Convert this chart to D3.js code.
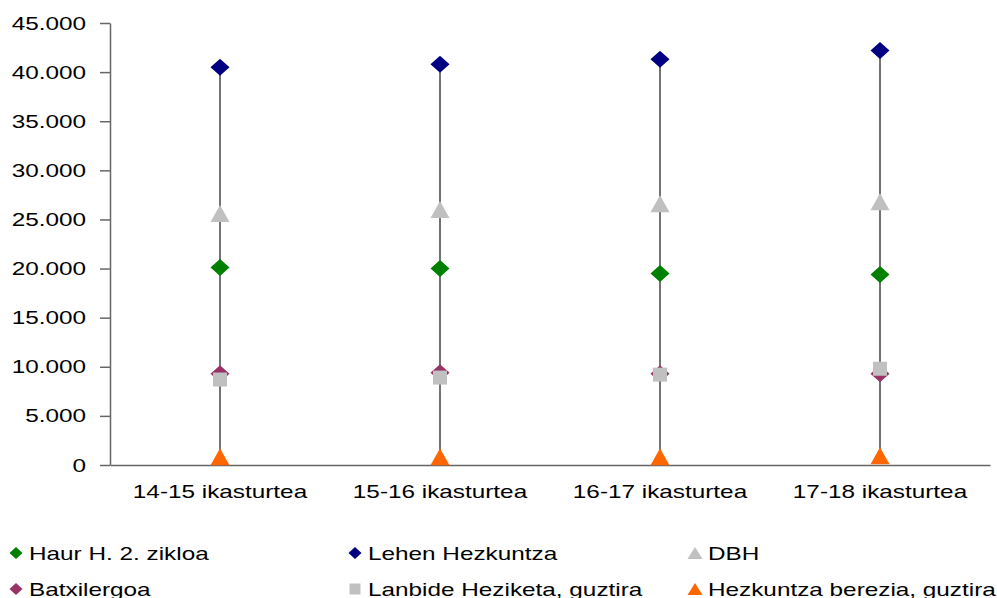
<!DOCTYPE html>
<html>
<head>
<meta charset="utf-8">
<script src="https://cdn.jsdelivr.net/npm/d3@7"></script>
<style>
  body { margin: 0; background: #fff; }
  text { font-family: "Liberation Sans", Arial, sans-serif; fill: #000; }
</style>
</head>
<body>
<script>
const svgW = 997;
const svgH = 598;

// datuak
const categories = ['14-15 ikasturtea', '15-16 ikasturtea', '16-17 ikasturtea', '17-18 ikasturtea'];
const seriesNames = ['Haur H. 2. zikloa', 'Lehen Hezkuntza', 'DBH', 'Batxilergoa', 'Lanbide Heziketa, guztira', 'Hezkuntza berezia, guztira'];
const haur = [20100, 20000, 19500, 19400];
const lehen = [40500, 40800, 41300, 42200];
const dbh = [25600, 26000, 26600, 26800];
const batx = [9300, 9400, 9300, 9300];
const lanbide = [8700, 8900, 9200, 9800];
const berezia = [850, 850, 850, 950];
const yTicks = [0, 5000, 10000, 15000, 20000, 25000, 30000, 35000, 40000, 45000];

const seriesValues = [haur, lehen, dbh, batx, lanbide, berezia];
const colors = ['#008000', '#000080', '#c0c0c0', '#993366', '#c0c0c0', '#ff6600'];

// testua horizontalki luzatuta dago jatorrizkoan
const sx = 1.28;

// marker formak (w, h pixeletan)
const diamond = (w, h) => ({ draw(ctx) {
  ctx.moveTo(0, -h / 2); ctx.lineTo(w / 2, 0); ctx.lineTo(0, h / 2); ctx.lineTo(-w / 2, 0); ctx.closePath();
}});
const triangle = (w, h) => ({ draw(ctx) {
  ctx.moveTo(0, -h / 2); ctx.lineTo(w / 2, h / 2); ctx.lineTo(-w / 2, h / 2); ctx.closePath();
}});
const square = (w, h) => ({ draw(ctx) {
  ctx.rect(-w / 2, -h / 2, w, h);
}});
const shapes = [diamond, diamond, triangle, diamond, square, triangle];
const markSize = [[19, 17], [19, 17], [19, 17], [19, 17], [14, 14], [19, 17]];
const legendSize = [[13, 12], [13, 12], [15, 12], [13, 12], [11, 11], [15, 12]];

const svg = d3.select('body')
              .append('svg')
              .attr('width', svgW)
              .attr('height', svgH);

const plotL = 110, plotR = 990, plotT = 23, plotB = 465;

const xScale = d3.scaleBand()
                  .domain(categories)
                  .range([plotL, plotR]);
const yScale = d3.scaleLinear()
                  .domain([0, 45000])
                  .range([plotB, plotT]);

const fmt = d => d === 0 ? '0' : d3.format(',')(d).replace(/,/g, '.');

// y ardatza
const yAxis = d3.axisLeft(yScale)
                .tickValues(yTicks)
                .tickFormat(fmt)
                .tickSize(10)
                .tickSizeOuter(0)
                .tickPadding(14);
const gy = svg.append('g')
  .attr('transform', `translate(${plotL}, 0)`)
  .call(yAxis);
gy.selectAll('line, path').attr('stroke', '#666').attr('stroke-width', 1.5);
gy.selectAll('text')
  .attr('font-size', 19)
  .attr('font-family', '"Liberation Sans", Arial, sans-serif')
  .attr('x', -24 / sx)
  .attr('transform', `scale(${sx},1)`);

// x ardatza
const xAxis = d3.axisBottom(xScale).tickSize(0).tickSizeOuter(0).tickPadding(20);
const gx = svg.append('g')
  .attr('transform', `translate(0, ${plotB})`)
  .call(xAxis);
gx.select('path').attr('stroke', '#666').attr('stroke-width', 1.5);
gx.selectAll('text')
  .attr('font-size', 19)
  .attr('font-family', '"Liberation Sans", Arial, sans-serif')
  .attr('transform', `scale(${sx},1)`);

// high-low lerroak
categories.forEach((c, i) => {
  const vals = seriesValues.map(s => s[i]);
  svg.append('line')
    .attr('x1', xScale(c) + xScale.bandwidth() / 2)
    .attr('x2', xScale(c) + xScale.bandwidth() / 2)
    .attr('y1', yScale(d3.min(vals)))
    .attr('y2', yScale(d3.max(vals)))
    .attr('stroke', '#444')
    .attr('stroke-width', 1.5);
});

// markerrak
seriesValues.forEach((s, k) => {
  svg.append('g').selectAll('path')
    .data(s)
    .enter()
    .append('path')
    .attr('d', d3.symbol().type(shapes[k](...markSize[k])))
    .attr('transform', (d, i) => {
      const x = xScale(categories[i]) + xScale.bandwidth() / 2;
      return `translate(${x}, ${yScale(d)})`;
    })
    .attr('fill', colors[k]);
});

// legenda
const legendX = [16, 355, 695];
const legendY = [553, 589];
seriesNames.forEach((name, k) => {
  const col = k % 3, row = Math.floor(k / 3);
  const g = svg.append('g')
    .attr('transform', `translate(${legendX[col]}, ${legendY[row]})`);
  g.append('path')
    .attr('d', d3.symbol().type(shapes[k](...legendSize[k])))
    .attr('fill', colors[k]);
  g.append('text')
    .attr('x', 13 / sx)
    .attr('dy', '0.35em')
    .attr('font-size', 19)
    .attr('transform', `scale(${sx},1)`)
    .text(name);
});
</script>
</body>
</html>
